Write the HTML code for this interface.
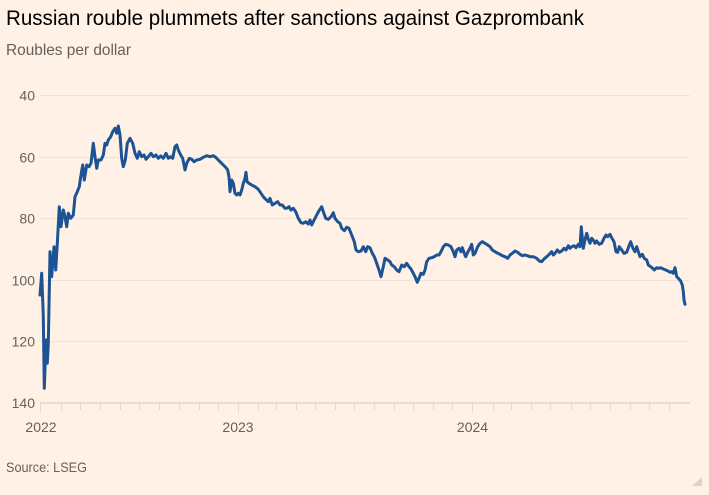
<!DOCTYPE html>
<html>
<head>
<meta charset="utf-8">
<style>
html,body{margin:0;padding:0;background:#fff1e5;}
svg{display:block;}
text{font-family:"Liberation Sans",sans-serif;}
</style>
</head>
<body>
<svg width="709" height="495" viewBox="0 0 709 495" xmlns="http://www.w3.org/2000/svg">
<rect x="0" y="0" width="709" height="495" fill="#fff1e5"/>
<text x="6" y="25" font-size="21" fill="#000" textLength="578" lengthAdjust="spacingAndGlyphs">Russian rouble plummets after sanctions against Gazprombank</text>
<text x="6" y="55" font-size="16" fill="#66605c" textLength="125" lengthAdjust="spacingAndGlyphs">Roubles per dollar</text>

<g stroke="#f0e2d6" stroke-width="1">
<line x1="40" y1="95.5" x2="690" y2="95.5"/>
<line x1="40" y1="157.5" x2="690" y2="157.5"/>
<line x1="40" y1="218.5" x2="690" y2="218.5"/>
<line x1="40" y1="280.5" x2="690" y2="280.5"/>
<line x1="40" y1="341.5" x2="690" y2="341.5"/>
</g>
<line x1="40" y1="403" x2="690" y2="403" stroke="#e9dbcf" stroke-width="2"/>
<g stroke="#e6d8cc" stroke-width="1">
<line x1="40.5" y1="403" x2="40.5" y2="413"/>
<line x1="61.5" y1="403" x2="61.5" y2="410"/>
<line x1="80.5" y1="403" x2="80.5" y2="410"/>
<line x1="100.5" y1="403" x2="100.5" y2="410"/>
<line x1="120.5" y1="403" x2="120.5" y2="410"/>
<line x1="139.5" y1="403" x2="139.5" y2="410"/>
<line x1="159.5" y1="403" x2="159.5" y2="410"/>
<line x1="179.5" y1="403" x2="179.5" y2="410"/>
<line x1="199.5" y1="403" x2="199.5" y2="410"/>
<line x1="218.5" y1="403" x2="218.5" y2="410"/>
<line x1="238.5" y1="403" x2="238.5" y2="413"/>
<line x1="258.5" y1="403" x2="258.5" y2="410"/>
<line x1="276.5" y1="403" x2="276.5" y2="410"/>
<line x1="296.5" y1="403" x2="296.5" y2="410"/>
<line x1="315.5" y1="403" x2="315.5" y2="410"/>
<line x1="335.5" y1="403" x2="335.5" y2="410"/>
<line x1="354.5" y1="403" x2="354.5" y2="410"/>
<line x1="374.5" y1="403" x2="374.5" y2="410"/>
<line x1="394.5" y1="403" x2="394.5" y2="410"/>
<line x1="413.5" y1="403" x2="413.5" y2="410"/>
<line x1="433.5" y1="403" x2="433.5" y2="410"/>
<line x1="452.5" y1="403" x2="452.5" y2="410"/>
<line x1="472.5" y1="403" x2="472.5" y2="413"/>
<line x1="493.5" y1="403" x2="493.5" y2="410"/>
<line x1="511.5" y1="403" x2="511.5" y2="410"/>
<line x1="531.5" y1="403" x2="531.5" y2="410"/>
<line x1="550.5" y1="403" x2="550.5" y2="410"/>
<line x1="571.5" y1="403" x2="571.5" y2="410"/>
<line x1="590.5" y1="403" x2="590.5" y2="410"/>
<line x1="610.5" y1="403" x2="610.5" y2="410"/>
<line x1="630.5" y1="403" x2="630.5" y2="410"/>
<line x1="649.5" y1="403" x2="649.5" y2="410"/>
<line x1="669.5" y1="403" x2="669.5" y2="410"/>
</g>

<g font-size="14" fill="#66605c" text-anchor="end">
<text x="35" y="100.5">40</text>
<text x="35" y="162.5">60</text>
<text x="35" y="223.5">80</text>
<text x="35" y="285.5">100</text>
<text x="35" y="346.5">120</text>
<text x="35" y="408">140</text>
</g>
<g font-size="14" fill="#66605c" text-anchor="middle">
<text x="41" y="432">2022</text>
<text x="238" y="432">2023</text>
<text x="472.5" y="432">2024</text>
</g>

<polyline fill="none" stroke="#1d5394" stroke-width="3" stroke-linejoin="round" stroke-linecap="round" points="
40,295 41.7,273.3 43.3,316.7 44.3,388.3 46,340 47.3,363.3 48.3,343.3 50,251.7 51.7,276.7 54,246.7 55.7,270 57.3,243.3 59.3,206.7 61,226.7 63.3,210 65,216.7 66.7,226.7 68.3,213.3 70.7,218.3 73.3,215 75,196.7 77.3,191.7 79.3,186.7 80.7,176.7 82.7,165 84.3,180 86.7,165 89,166.7 91,163.3 93.3,143.3 95,156.7 96.7,168.3 98.3,160 101,160 103.3,155 105,143.3 106.7,145 108.3,140 110.7,136.7 112.7,131.7 115,128.3 116.7,133.3 118.3,126 120,135 121.7,158.3 123.3,166.7 125.3,160 127.3,143.3 130,138.3 132.7,143.3 135,153.3 137.3,158.3 139.3,151.7 141.7,156.7 144,155 146,159.3 148.3,156.7 151,153.3 153.3,156.7 156,155 158.3,158.3 160.7,156 163.3,158.3 166,153.3 168.3,158.3 170.7,156.7 172.7,158.3 175,146.7 176.7,145 178.3,150 180.7,155 182.7,158.3 185,170 186.7,163.3 189.3,158.3 191.7,159.3 194,161.7 196.7,160 200,159.3
203.3,157.3 206.7,155.7 210,156.7 213.3,155.7 215.7,157.3 218.3,160 221,162.7 223.3,165 225.7,167.3 227.7,170 229,176.7 230,191.7 231.7,180 233.3,183.3 235,193.3 236.7,195 238.3,193.3 240,195 241.7,190 243.3,183.3 245,178.3 246,172.3 247,181.7 249,183.3 251.7,185 255,186.7 258.3,189.3 261,193.3 263.3,196.7 265.7,199.3 268.3,201.7 270,198.3 272.3,205 275,203.3 277.7,201.7 280,205 282.3,205 285,208.3 286.7,208.3 289,206.7 291,210 293.3,208.3 295.7,211.7 298.3,218.3 301,222.7 303.3,223.3 305.7,221.7 308.3,224 310,220 311.7,225 313.3,221.7 316.7,215 319,210.7 321.7,206.7 323.3,211.7 325.7,218.3 328.3,219.3 331,216.7 333.3,212.7 335,218.3 337.7,221.7 340,223.3 341.7,228.3 344.3,230.7 346.7,227.3 349,228.3 351.7,235 354.3,241.7 356,250 358.3,251.7
361,251 363.3,246.7 365.7,251.7 367.7,246.7 370,247.7 372.3,253.3 374.3,256.7 376.7,263.3 379,270 381,276.7 383.3,266.7 385,258.3 387.7,260 390,261.7 391.7,265 394.3,266.7 396.7,270 399,271.7 401.7,265 404.3,266.7 406.7,263.3 409,266.7 411,269 413.3,273.3 415,276.7 417.3,282.3 419,278.3 421,273.3 423.3,274.3 425,270 426.7,261.7 429,258.3 431.7,257.7 434.3,256.7 436.7,255 439,255 441,251.7 443.3,246.7 445.7,244.3 448.3,245 451,246.7 453.3,251.7 455,256.7 456.7,250 459,248.3 461,251.7 462.3,247.7 464.3,253.3 465.7,256.7 467.7,252.3 470,248.3 471.7,244.3 473.3,255 475,253.3 477.7,246.7 480,243.3 482.3,241.7 485,243.3 487.7,245 490,246.7 492.3,250 495,251.7 497.7,253.3 500,254.3 502.3,255.7 505,256.7 507.7,258.3 510,255 512.3,253.3 515,251 517.7,252.3 520,254.3 522.3,255.7 525,255
527.3,255.7 530,256.7 533.3,256.7 536.7,258.3 539.3,261 541.7,261.7 544,259 546.7,256.7 549.3,254.3 551.7,251.7 553.3,255 555,253.3 557.3,250 559.3,252.3 561.7,251 564,248.3 566,250 568.3,245.7 570,248.3 571.7,246.7 574,245.7 576,247.7 578.3,244.3 580,246.7 581.3,226.7 582.3,238.3 583.3,248.3 585,240 586.7,233.3 588.3,239 590,243.3 591.7,238.3 593.3,240 595,243.3 596.7,241 599.3,244.3 601.7,243.3 604,238.3 606,235 607.7,236.7 610,234.3 612,238.3 614,241.7 616,251.7 617.7,252.3 619.3,246.7 621.7,250 624,253.3 626.7,252.3 628.7,246.7 630.7,241.7 632.7,247.7 635,251.7 636.7,246.7 638.3,251.7 640,256.7 642.3,254.3 644.3,258.3 646.7,260 648.3,265 650.7,266.7 652.7,268.3 654.3,270 656.7,267.7 658.7,268.3 660.7,267.7 663.3,269 665.7,270 668,271 670,272.3 671.7,271.7 673.3,273.3 675,267.7 676.7,276.7 678.3,278.3 680.7,281 682.3,285 683.3,291.7 684,300 685,304.3"/>

<text x="6" y="472" font-size="14" fill="#66605c" textLength="81" lengthAdjust="spacingAndGlyphs">Source: LSEG</text>
<polygon points="702,477 702,486 692,486" fill="#dcd4cc"/>
</svg>
</body>
</html>
